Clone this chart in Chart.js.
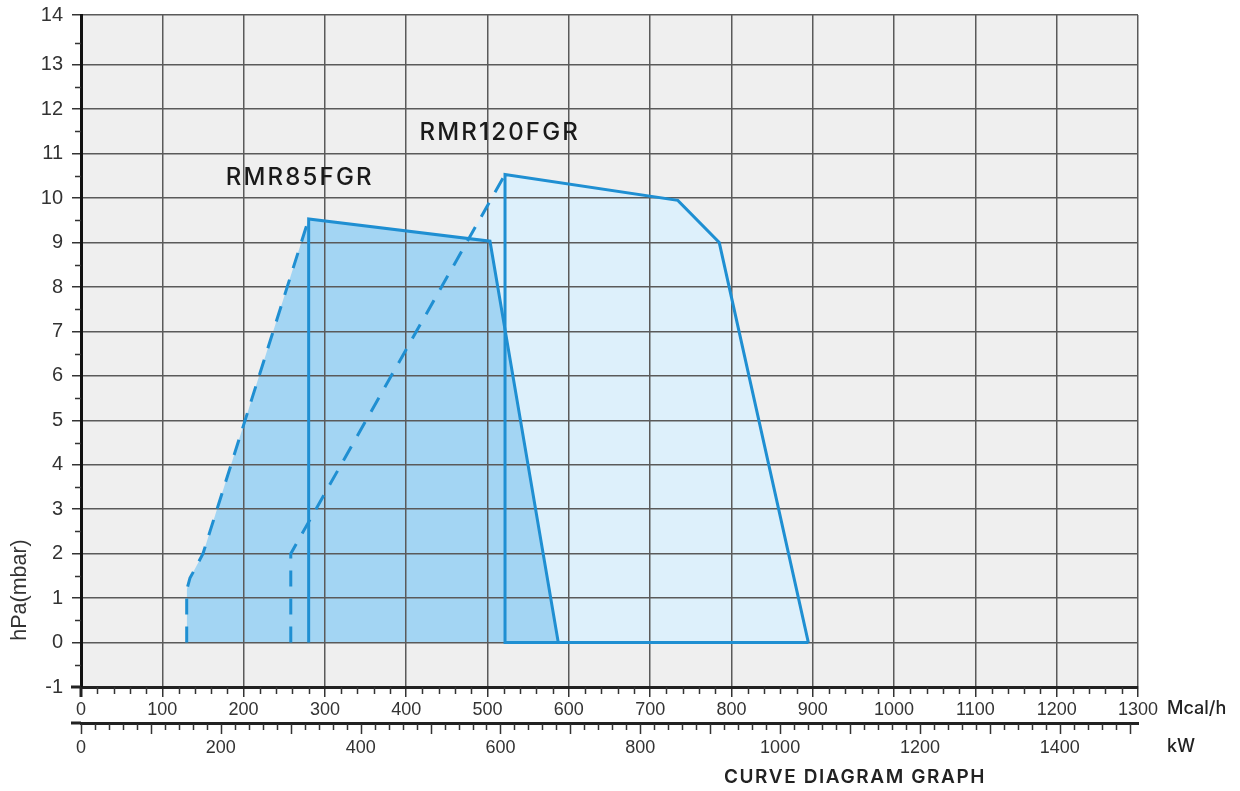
<!DOCTYPE html>
<html>
<head>
<meta charset="utf-8">
<script src="https://cdn.jsdelivr.net/npm/chart.js@4.4.0/dist/chart.umd.min.js"></script>
<style>
  html, body { margin: 0; padding: 0; background: #fff; }
  #wrap { width: 1240px; height: 791px; }
</style>
</head>
<body>
<div id="wrap"><canvas id="curveGraph"></canvas></div>
<script>
// working fields, capacity in Mcal/h against pressure in hPa (mbar)
const rmr85DashX = [130, 130, 134, 142, 150, 280];
const rmr85DashY = [0, 1.18, 1.45, 1.72, 2.0, 9.53];
const rmr85SolidX = [280, 280, 503, 587];
const rmr85SolidY = [0, 9.53, 9.03, 0];

const rmr120DashX = [258, 258, 521.5];
const rmr120DashY = [0, 2.0, 10.53];
const rmr120SolidX = [894.6, 521.5, 521.5, 734, 785, 894.6];
const rmr120SolidY = [0, 0, 10.53, 9.95, 9.0, 0];

const modelNames = ["RMR85FGR", "RMR120FGR"];

// axes
const yTickValues = [-1, 0, 1, 2, 3, 4, 5, 6, 7, 8, 9, 10, 11, 12, 13, 14];
const mcalTickValues = [0, 100, 200, 300, 400, 500, 600, 700, 800, 900, 1000, 1100, 1200, 1300];
const kwTickValues = [0, 200, 400, 600, 800, 1000, 1200, 1400];
const kwPerMcal = 1.163;

const lineBlue = "#1f8fd2";
const fillDark = "#a3d5f3";
const fillLight = "#ddf0fb";
const gridGrey = "#5a5a5a";
const numFont = "Liberation Sans, Arial, sans-serif";
const headFont = "Inter, Lato, sans-serif";

function pts(xs, ys) {
  return xs.map((x, i) => ({ x: x, y: ys[i] }));
}

const rmr85Fill = pts(rmr85DashX.concat(rmr85SolidX.slice(2)), rmr85DashY.concat(rmr85SolidY.slice(2)));
const rmr120Fill = pts(rmr120DashX.concat(rmr120SolidX.slice(3)), rmr120DashY.concat(rmr120SolidY.slice(3)));

function lineSet(data, dashed) {
  return {
    data: data,
    showLine: true,
    borderColor: lineBlue,
    borderWidth: 3,
    borderDash: dashed ? [16, 12] : [],
    borderJoinStyle: "miter",
    pointRadius: 0,
    fill: false,
    tension: 0
  };
}

function fillSet(data, color) {
  return {
    data: data,
    showLine: true,
    borderWidth: 0,
    borderColor: "rgba(0,0,0,0)",
    backgroundColor: color,
    pointRadius: 0,
    fill: "origin",
    tension: 0
  };
}

/* grey plot area, painted before the fills so the grid sits on top of them */
const plotBackground = {
  id: "plotBackground",
  beforeDraw(chart) {
    const { ctx, chartArea: a } = chart;
    ctx.save();
    ctx.fillStyle = "#efefef";
    ctx.fillRect(a.left, a.top, a.right - a.left, a.bottom - a.top);
    ctx.restore();
  }
};
const fillerPlugin = Chart.registry.getPlugin("filler");
Chart.unregister(fillerPlugin);
Chart.register(plotBackground, fillerPlugin);

/* minor ticks, unit and model texts */
const extras = {
  id: "extras",
  afterDraw(chart) {
    const { ctx, chartArea: a, scales } = chart;
    const x = scales.x, y = scales.y, kw = scales.kw;
    ctx.save();
    ctx.strokeStyle = "#333";
    ctx.lineWidth = 1.5;
    ctx.beginPath();
    // half steps on the pressure axis
    for (let i = 0; i < yTickValues.length - 1; i++) {
      const py = Math.round(y.getPixelForValue(yTickValues[i] + 0.5)) + 0.5;
      ctx.moveTo(a.left - 6, py);
      ctx.lineTo(a.left, py);
    }
    // every 20 Mcal/h
    for (let v = 20; v < 1300; v += 20) {
      if (v % 100 === 0) continue;
      const px = Math.round(x.getPixelForValue(v)) + 0.5;
      ctx.moveTo(px, a.bottom);
      ctx.lineTo(px, a.bottom + 7);
    }
    // every 20 kW
    for (let v = 0; v <= 1500; v += 20) {
      const px = Math.round(kw.getPixelForValue(v)) + 0.5;
      const len = v % 100 === 0 ? 11 : 7;
      ctx.moveTo(px, kw.top + 1);
      ctx.lineTo(px, kw.top + len);
    }
    ctx.stroke();

    // axis lines run a little past the left edge
    ctx.strokeStyle = "#222";
    ctx.lineWidth = 3;
    ctx.beginPath();
    ctx.moveTo(71, a.bottom);
    ctx.lineTo(a.left, a.bottom);
    ctx.moveTo(71, kw.top);
    ctx.lineTo(a.left, kw.top);
    ctx.moveTo(a.left, a.bottom);
    ctx.lineTo(a.left, a.bottom + 10);
    ctx.stroke();

    // texts
    ctx.fillStyle = "#222";
    ctx.textBaseline = "middle";
    ctx.font = "500 18px " + headFont;
    ctx.textAlign = "left";
    ctx.fillText("Mcal/h", 1167, 709);
    ctx.fillText("kW", 1167, 747);
    ctx.font = "600 19px " + headFont;
    ctx.letterSpacing = "1.6px";
    ctx.textAlign = "center";
    ctx.fillText("CURVE DIAGRAM GRAPH", 855, 777);

    ctx.font = "500 24px " + headFont;
    ctx.letterSpacing = "2.2px";
    ctx.fillStyle = "#1a1a1a";
    ctx.fillText(modelNames[0], x.getPixelForValue(269), y.getPixelForValue(10.46));
    ctx.fillText(modelNames[1], x.getPixelForValue(515), y.getPixelForValue(11.48));
    ctx.letterSpacing = "0px";

    ctx.translate(20, 590);
    ctx.rotate(-Math.PI / 2);
    ctx.font = "21.5px " + numFont;
    ctx.fillStyle = "#333";
    ctx.fillText("hPa(mbar)", 0, 0);
    ctx.restore();
  }
};

const ctxCurve = document.getElementById("curveGraph").getContext("2d");
new Chart(ctxCurve, {
  type: "scatter",
  data: {
    datasets: [
      lineSet(pts(rmr120SolidX, rmr120SolidY), false),
      lineSet(pts(rmr85SolidX, rmr85SolidY), false),
      lineSet(pts(rmr120DashX, rmr120DashY), true),
      lineSet(pts(rmr85DashX, rmr85DashY), true),
      fillSet(rmr85Fill, fillDark),
      fillSet(rmr120Fill, fillLight)
    ]
  },
  options: {
    responsive: true,
    maintainAspectRatio: false,
    animation: false,
    layout: { padding: { top: 15, right: 102, bottom: 18, left: 0 } },
    plugins: {
      legend: { display: false },
      tooltip: { enabled: false },
      filler: { drawTime: "beforeDraw" }
    },
    scales: {
      x: {
        type: "linear",
        position: "bottom",
        min: 0,
        max: 1300,
        afterBuildTicks: (s) => { s.ticks = mcalTickValues.map(v => ({ value: v })); },
        afterFit: (s) => { s.height = 36; },
        ticks: {
          autoSkip: false,
          maxRotation: 0,
          padding: 2,
          color: "#333",
          font: { family: numFont, size: 18 },
          callback: (v) => String(v)
        },
        grid: { color: gridGrey, lineWidth: 1.5, tickLength: 10, tickColor: "#333", tickWidth: 1.5 },
        border: { color: "#222", width: 3 }
      },
      kw: {
        type: "linear",
        position: "bottom",
        min: 0,
        max: 1300 * kwPerMcal,
        afterBuildTicks: (s) => { s.ticks = kwTickValues.map(v => ({ value: v })); },
        afterFit: (s) => { s.height = 50; },
        ticks: {
          autoSkip: false,
          maxRotation: 0,
          padding: 6,
          color: "#333",
          font: { family: numFont, size: 18 },
          callback: (v) => String(v)
        },
        grid: { display: false },
        border: { color: "#222", width: 3 }
      },
      y: {
        type: "linear",
        min: -1,
        max: 14.12,
        afterBuildTicks: (s) => { s.ticks = yTickValues.map(v => ({ value: v === 14 ? s.max : v })); },
        afterFit: (s) => { s.width = 81; s.paddingTop = 0; s.paddingBottom = 0; },
        ticks: {
          autoSkip: false,
          padding: 9,
          color: "#333",
          font: { family: numFont, size: 20 },
          callback: (v) => String(Math.round(v))
        },
        grid: { color: gridGrey, lineWidth: 1.5, tickLength: 9, tickColor: "#333", tickWidth: 1.5 },
        border: { color: "#111", width: 3 }
      }
    }
  },
  plugins: [extras]
});
</script>
</body>
</html>
